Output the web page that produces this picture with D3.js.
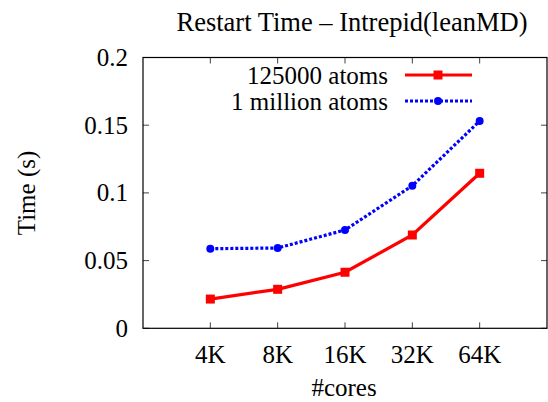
<!DOCTYPE html>
<html>
<head>
<meta charset="utf-8">
<script src="https://cdn.jsdelivr.net/npm/d3@7"></script>
<style>
  body { margin: 0; background: #fff; }
</style>
</head>
<body>
<svg width="548" height="402" font-family="'Liberation Serif', 'Times New Roman', Times, serif"></svg>
<script>
var cores = ["4K", "8K", "16K", "32K", "64K"];
var small = [0.0216, 0.0288, 0.0414, 0.0689, 0.1145];   // 125000 atoms
var large = [0.0588, 0.0593, 0.0726, 0.1053, 0.1531];   // 1 million atoms
var yTicks = [0, 0.05, 0.1, 0.15, 0.2];

var FONT = "'Liberation Serif', 'Times New Roman', Times, serif";
var svg = d3.select("svg");
// note: "top" is reserved on window, so use p* names
var pLeft = 143, pRight = 547, pTop = 57.5, pBottom = 328.3;

var x = d3.scaleLinear().domain([0, cores.length + 1]).range([pLeft, pRight]);
var y = d3.scaleLinear().domain([0, 0.2]).range([pBottom, pTop]);

function label(sel, size) {
    return sel.attr("font-family", FONT).attr("font-size", size).attr("fill", "#000");
}

// tick marks, mirrored on all sides, pointing inward
var tl = 6;
var tk = svg.append("g").attr("stroke", "#444").attr("stroke-width", 1);
cores.forEach(function(c, i) {
    tk.append("line").attr("x1", x(i + 1)).attr("x2", x(i + 1)).attr("y1", pBottom).attr("y2", pBottom - tl);
    tk.append("line").attr("x1", x(i + 1)).attr("x2", x(i + 1)).attr("y1", pTop).attr("y2", pTop + tl);
});
yTicks.forEach(function(t) {
    tk.append("line").attr("x1", pLeft).attr("x2", pLeft + tl).attr("y1", y(t)).attr("y2", y(t));
    tk.append("line").attr("x1", pRight).attr("x2", pRight - tl).attr("y1", y(t)).attr("y2", y(t));
});

svg.append("rect")
    .attr("x", pLeft).attr("y", pTop)
    .attr("width", pRight - pLeft).attr("height", pBottom - pTop)
    .attr("fill", "none").attr("stroke", "#000").attr("stroke-width", 1.2);

// tick labels
label(svg.selectAll(".ylab").data(yTicks).enter().append("text"), 25)
    .attr("x", 128).attr("y", function(d) { return y(d) + 8.5; })
    .attr("text-anchor", "end")
    .text(function(d) { return d; });

label(svg.selectAll(".xlab").data(cores).enter().append("text"), 25)
    .attr("x", function(d, i) { return x(i + 1); }).attr("y", 363)
    .attr("text-anchor", "middle")
    .text(function(d) { return d; });

label(svg.append("text"), 25).attr("x", 344).attr("y", 396)
    .attr("text-anchor", "middle").text("#cores");

label(svg.append("text"), 25)
    .attr("transform", "translate(35,193) rotate(-90)")
    .attr("text-anchor", "middle").text("Time (s)");

label(svg.append("text"), 26.5).attr("x", 352).attr("y", 31)
    .attr("text-anchor", "middle")
    .text("Restart Time \u2013 Intrepid(leanMD)");

var line = d3.line()
    .x(function(d, i) { return x(i + 1); })
    .y(function(d) { return y(d); });

// 1 million atoms (blue, dotted)
svg.append("path").datum(large)
    .attr("d", line).attr("fill", "none")
    .attr("stroke", "#0000ff").attr("stroke-width", 3.2)
    .attr("stroke-dasharray", "3,2");
svg.selectAll(".bm").data(large).enter().append("path")
    .attr("transform", function(d, i) { return "translate(" + x(i + 1) + "," + y(d) + ")"; })
    .attr("d", d3.symbol().type(d3.symbolCircle).size(50))
    .attr("fill", "#0000ff");

// 125000 atoms (red, solid)
svg.append("path").datum(small)
    .attr("d", line).attr("fill", "none")
    .attr("stroke", "#ff0000").attr("stroke-width", 3.2);
svg.selectAll(".rm").data(small).enter().append("rect")
    .attr("x", function(d, i) { return x(i + 1) - 4.5; })
    .attr("y", function(d) { return y(d) - 4.5; })
    .attr("width", 9).attr("height", 9)
    .attr("fill", "#ff0000");

// legend
var legend = [
    { name: "125000 atoms", color: "#ff0000", dash: null, yy: 75 },
    { name: "1 million atoms", color: "#0000ff", dash: "3,2", yy: 101 }
];
legend.forEach(function(l, i) {
    label(svg.append("text"), 25).attr("x", 388).attr("y", l.yy + 8.5)
        .attr("text-anchor", "end").text(l.name);
    svg.append("line").attr("x1", 405).attr("x2", 472).attr("y1", l.yy).attr("y2", l.yy)
        .attr("stroke", l.color).attr("stroke-width", 3.2)
        .attr("stroke-dasharray", l.dash);
    if (i == 0) {
        svg.append("rect").attr("x", 438 - 4.5).attr("y", l.yy - 4.5)
            .attr("width", 9).attr("height", 9).attr("fill", l.color);
    } else {
        svg.append("circle").attr("cx", 438).attr("cy", l.yy).attr("r", 4).attr("fill", l.color);
    }
});
</script>
</body>
</html>
